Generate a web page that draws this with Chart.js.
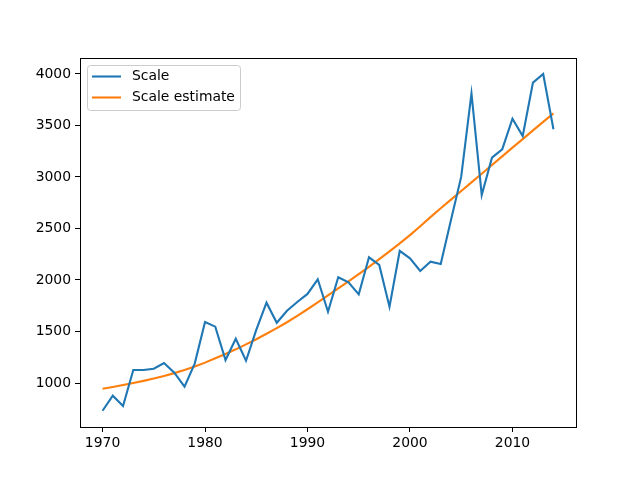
<!DOCTYPE html>
<html>
<head>
<meta charset="utf-8">
<script src="https://cdn.jsdelivr.net/npm/chart.js@4"></script>
<style>
  html,body{margin:0;padding:0;background:#fff;}
  #wrap{width:640px;height:480px;position:relative;}
</style>
</head>
<body>
<div id="wrap"><canvas id="c" width="640" height="480"></canvas></div>
<script>
// === DATA ===
const years = [];
for (let y = 1970; y <= 2014; y++) years.push(y);
const scale = [
  731, 877, 777, 1126, 1126, 1139, 1194, 1100, 964, 1191,
  1592, 1547, 1223, 1430, 1216, 1515, 1780, 1585, 1702, 1786,
  1865, 2007, 1692, 2026, 1978, 1861, 2220, 2146, 1741, 2282,
  2210, 2087, 2178, 2155, 2582, 3003, 3812, 2825, 3187, 3269,
  3566, 3398, 3916, 4000, 3463
];
const scaleEstimate = [
  945, 962, 980, 1000, 1021, 1044, 1069, 1096, 1126, 1160,
  1198, 1240, 1282, 1327, 1375, 1425, 1478, 1533, 1590, 1652,
  1716, 1782, 1850, 1918, 1986, 2056, 2128, 2202, 2278, 2356,
  2436, 2522, 2610, 2696, 2780, 2864, 2948, 3032, 3116, 3200,
  3285, 3368, 3452, 3535, 3618
];
const xTicks = [1970, 1980, 1990, 2000, 2010];
const yTicks = [1000, 1500, 2000, 2500, 3000, 3500, 4000];
const labels = ['Scale', 'Scale estimate'];
const colors = ['#1f77b4', '#ff7f0e'];

// === PLUGINS ===
// matplotlib-style box round the axes
const frame = {
  id:'frame',
  afterDraw(chart) {
    const {ctx, chartArea:a} = chart;
    ctx.save();
    ctx.strokeStyle = '#000'; ctx.lineWidth = 1;
    ctx.strokeRect(Math.round(a.left)+0.5, Math.round(a.top)+0.5,
      Math.round(a.right-a.left), Math.round(a.bottom-a.top));
    ctx.restore();
  }
};
// legend in the upper left, inside the axes
const innerLegend = {
  id:'innerLegend',
  afterDraw(chart) {
    const {ctx, chartArea:a} = chart;
    const x0 = a.left + 7, y0 = a.top + 7, w = 153, h = 45, r = 3;
    ctx.save();
    ctx.fillStyle = 'rgba(255,255,255,0.8)';
    ctx.strokeStyle = '#cccccc'; ctx.lineWidth = 1;
    ctx.beginPath();
    ctx.roundRect(x0+0.5, y0+0.5, w, h, r);
    ctx.fill(); ctx.stroke();
    ctx.font = '13.9px "DejaVu Sans"';
    ctx.textBaseline = 'middle';
    chart.data.datasets.forEach((ds, i) => {
      const yy = y0 + 11.5 + i*21;
      ctx.strokeStyle = ds.borderColor; ctx.lineWidth = 2.1;
      ctx.beginPath(); ctx.moveTo(x0+5, yy); ctx.lineTo(x0+34, yy); ctx.stroke();
      ctx.fillStyle = '#000';
      ctx.fillText(ds.label, x0+45, yy);
    });
    ctx.restore();
  }
};

// === CHART ===
const tickFont = {family:'"DejaVu Sans"', size:13.9};
new Chart(document.getElementById('c'), {
  type:'line',
  data:{datasets:[
    {label:labels[0], data:years.map((y,i)=>({x:y, y:scale[i]})),
      borderColor:colors[0], borderWidth:2.1, pointRadius:0, tension:0, fill:false},
    {label:labels[1], data:years.map((y,i)=>({x:y, y:scaleEstimate[i]})),
      borderColor:colors[1], borderWidth:2.1, pointRadius:0, tension:0, fill:false}
  ]},
  options:{responsive:false, animation:false, devicePixelRatio:1,
    layout:{padding:{left:0, top:58, right:64, bottom:0}},
    plugins:{legend:{display:false}, tooltip:{enabled:false}},
    scales:{
      x:{type:'linear', min:1967.8, max:2016.2,
        afterBuildTicks:s=>{ s.ticks = xTicks.map(v=>({value:v})); },
        afterFit:s=>{ s.height = 53; },
        grid:{display:true, drawOnChartArea:false, tickLength:5, tickColor:'#000', tickWidth:1},
        border:{display:true, color:'#000', width:1},
        ticks:{color:'#000', font:tickFont, padding:3, maxRotation:0, callback:v=>String(v)}},
      y:{type:'linear', min:573, max:4155,
        afterBuildTicks:s=>{ s.ticks = yTicks.map(v=>({value:v})); },
        afterFit:s=>{ s.width = 80; },
        grid:{display:true, drawOnChartArea:false, tickLength:5, tickColor:'#000', tickWidth:1},
        border:{display:true, color:'#000', width:1},
        ticks:{color:'#000', font:tickFont, padding:4, callback:v=>String(v)}}
    }},
  plugins:[frame, innerLegend]
});
</script>
</body>
</html>
